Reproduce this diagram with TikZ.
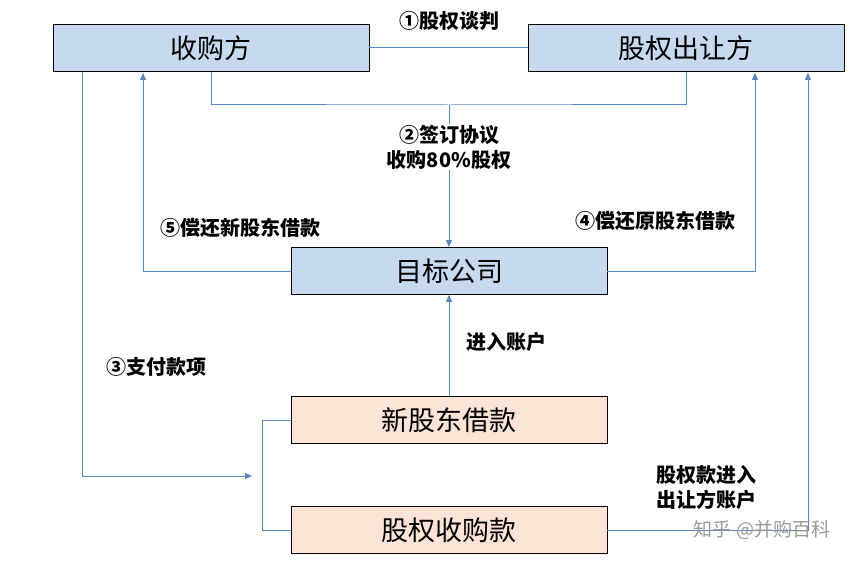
\documentclass[tikz,border=0pt]{standalone}
\usepackage{fontspec}
\setmainfont{Noto Sans CJK SC}
\usetikzlibrary{arrows.meta}
\definecolor{bfill}{HTML}{C6D9EE}
\definecolor{pfill}{HTML}{FBE3D5}
\definecolor{ln}{HTML}{5A88BC}
\begin{document}
\begin{tikzpicture}[x=1pt,y=-1pt,
  box/.style={draw=black,line width=0.8pt,minimum width=316pt,minimum height=47pt,inner sep=0pt,font=\fontsize{27}{29}\selectfont},
  bb/.style={box,fill=bfill},
  pb/.style={box,fill=pfill},
  con/.style={draw=ln,line width=1pt},
  arr/.style={con,-{Triangle[length=7pt,width=6pt]}},
  lab/.style={font=\fontsize{20}{25}\selectfont\bfseries,align=center,inner sep=1pt}]
\useasboundingbox (0,0) rectangle (864,564);
\node[bb] (a) at (211,48) {收购方};
\node[bb] (s) at (686,48) {股权出让方};
\node[bb] (t) at (449,271) {目标公司};
\node[pb] (n) at (449,420) {新股东借款};
\node[pb] (k) at (449,530) {股权收购款};
\coordinate (m) at (449,105);
\coordinate (j) at (252,476);
\draw[con] (a.east) -- (s.west);
\node[lab] at (449,21) {①股权谈判};
\draw[con] (a.south) |- (m) -| (s.south);
\draw[arr] (m) -- (t.north);
\node[lab,fill=white] at (449,147) {②签订协议\\收购80\%股权};
\draw[arr] (t.west) -| (143,73);
\node[lab] at (240,228) {⑤偿还新股东借款};
\draw[arr] (t.east) -| (755,73);
\node[lab] at (655,221) {④偿还原股东借款};
\draw[arr] (82,72) |- (j);
\node[lab] at (156,367) {③支付款项};
\draw[con] (n.west) -- (262,420) -- (262,530) -- (k.west);
\draw[arr] (n.north) -- (t.south);
\node[lab] at (506,342) {进入账户};
\draw[arr] (k.east) -| (808,73);
\node[lab] at (706,487) {股权款进入\\出让方账户};
\node[font=\fontsize{19}{22}\selectfont,text=black!40] at (762,530) {知乎 @并购百科};
\end{tikzpicture}
\end{document}
